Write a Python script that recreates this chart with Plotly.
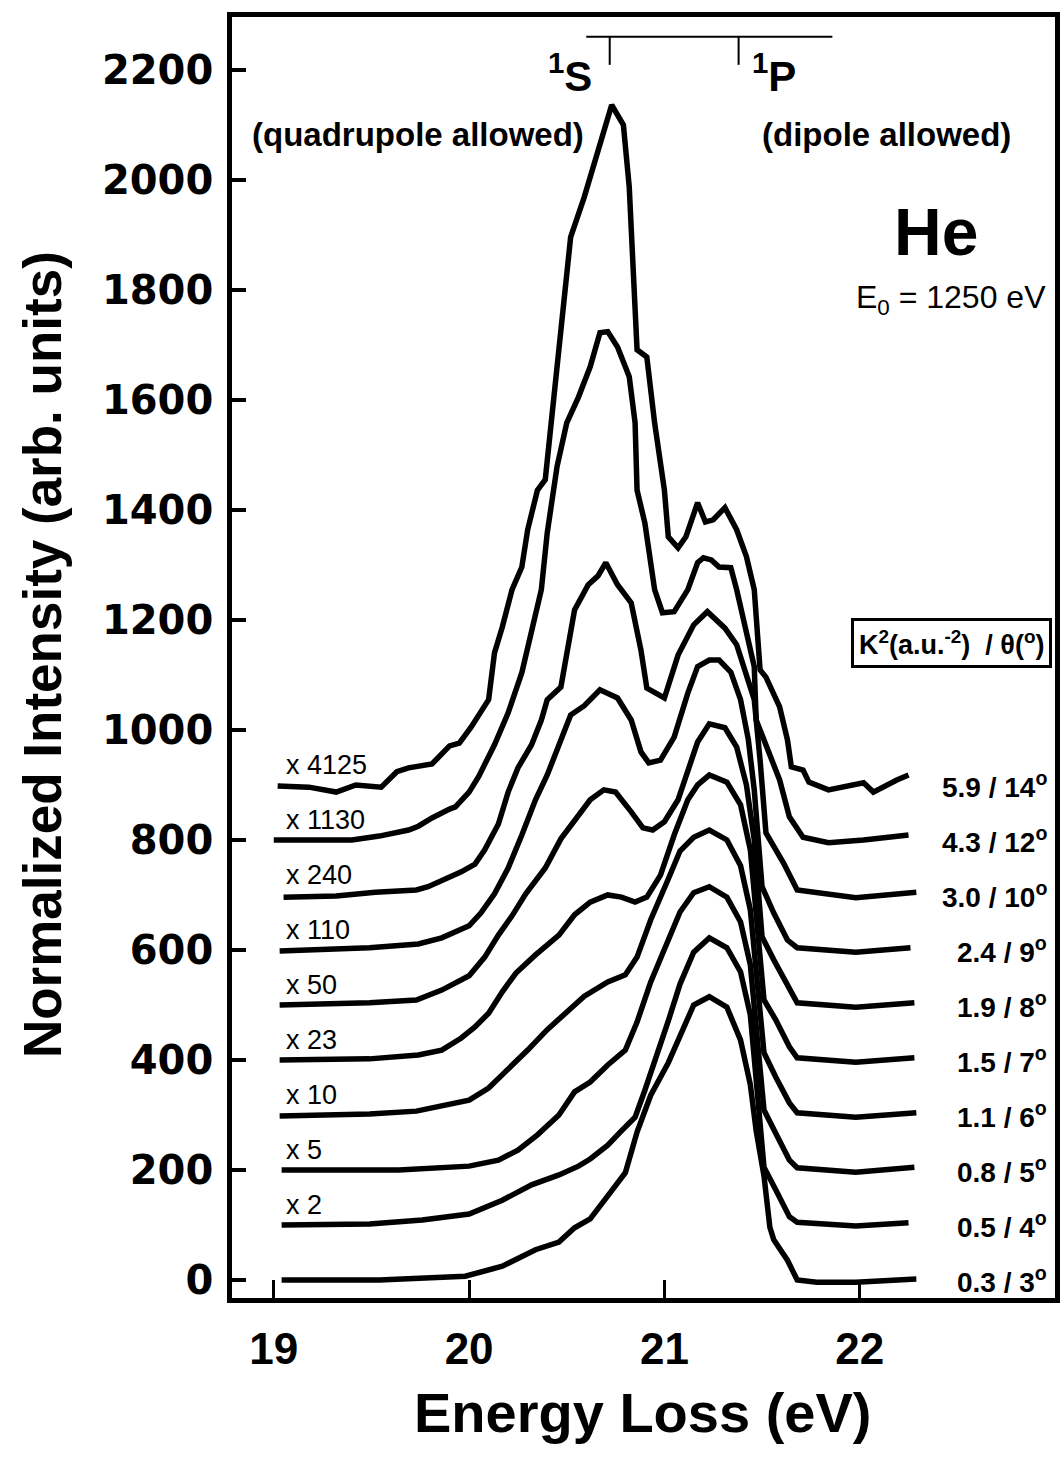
import plotly.graph_objects as go

# ---------------- data ----------------
baselines = [0, 100, 200, 300, 400, 500, 600, 700, 800, 900]

energy_0 = [19.04, 19.54, 19.98, 20.17, 20.34, 20.46, 20.54, 20.62, 20.71, 20.80, 20.86, 20.93, 21.02, 21.07,
            21.15, 21.23, 21.32, 21.39, 21.44, 21.47, 21.51, 21.54, 21.56, 21.63, 21.68, 21.78, 21.98, 22.29]
intensity_0 = [0, 0, 7, 25, 55, 69, 95, 111, 153, 195, 269, 336, 395, 436,
               500, 515, 496, 436, 355, 271, 189, 96, 73, 36, 0, -4, -4, 2]

energy_1 = [19.04, 19.49, 19.76, 20.00, 20.17, 20.32, 20.46, 20.56, 20.62, 20.71, 20.78, 20.85, 20.90, 20.95,
            21.02, 21.08, 21.15, 21.23, 21.32, 21.39, 21.44, 21.47, 21.51, 21.57, 21.64, 21.68, 21.98, 22.25]
intensity_1 = [100, 102, 109, 120, 145, 173, 191, 207, 220, 245, 271, 296, 345, 395,
               471, 538, 596, 622, 604, 560, 482, 364, 205, 164, 115, 105, 98, 104]

energy_2 = [19.04, 19.64, 20.00, 20.15, 20.25, 20.35, 20.46, 20.54, 20.62, 20.71, 20.80, 20.86, 20.93, 21.02,
            21.08, 21.15, 21.23, 21.32, 21.39, 21.44, 21.47, 21.51, 21.57, 21.64, 21.68, 21.98, 22.28]
intensity_2 = [200, 200, 207, 218, 236, 264, 300, 342, 360, 391, 418, 469, 542, 618,
               669, 704, 715, 696, 651, 573, 464, 309, 267, 218, 204, 196, 205]

energy_3 = [19.03, 19.49, 19.73, 19.86, 20.00, 20.10, 20.20, 20.30, 20.40, 20.52, 20.59, 20.71, 20.80, 20.86,
            20.93, 21.02, 21.08, 21.15, 21.23, 21.32, 21.39, 21.44, 21.47, 21.51, 21.57, 21.64, 21.68, 21.98, 22.29]
intensity_3 = [298, 302, 307, 316, 327, 349, 382, 418, 455, 495, 516, 542, 555, 587,
               655, 729, 780, 805, 818, 800, 753, 673, 564, 413, 369, 322, 304, 296, 304]

energy_4 = [19.03, 19.49, 19.74, 19.86, 19.96, 20.03, 20.10, 20.17, 20.24, 20.34, 20.46, 20.54, 20.62, 20.71,
            20.78, 20.85, 20.91, 20.98, 21.05, 21.12, 21.17, 21.23, 21.32, 21.39, 21.44, 21.47, 21.51, 21.57,
            21.64, 21.68, 21.98, 22.28]
intensity_4 = [400, 402, 409, 418, 440, 460, 485, 524, 558, 591, 627, 664, 687, 700,
               696, 687, 696, 736, 809, 873, 900, 918, 905, 864, 782, 673, 509, 473,
               424, 404, 396, 404]

energy_5 = [19.03, 19.49, 19.73, 19.86, 20.00, 20.08, 20.15, 20.22, 20.29, 20.39, 20.47, 20.54, 20.62, 20.69,
            20.75, 20.83, 20.89, 20.94, 21.00, 21.07, 21.12, 21.17, 21.23, 21.31, 21.37, 21.42, 21.46, 21.50,
            21.56, 21.64, 21.68, 21.98, 22.28]
intensity_5 = [500, 504, 509, 527, 553, 587, 627, 662, 702, 749, 802, 836, 873, 891,
               887, 851, 822, 818, 833, 873, 922, 978, 1011, 1004, 969, 900, 800, 624,
               582, 527, 504, 496, 504]

energy_6 = [19.03, 19.49, 19.74, 19.86, 20.00, 20.06, 20.13, 20.20, 20.27, 20.34, 20.40, 20.47, 20.52, 20.59,
            20.67, 20.76, 20.83, 20.88, 20.92, 20.98, 21.05, 21.12, 21.17, 21.23, 21.28, 21.34, 21.39, 21.43,
            21.46, 21.50, 21.56, 21.63, 21.68, 21.98, 22.26]
intensity_6 = [598, 604, 611, 622, 644, 667, 702, 749, 809, 873, 918, 978, 1027, 1044,
               1073, 1058, 1018, 960, 940, 945, 987, 1067, 1115, 1127, 1127, 1105, 1055, 982,
               891, 715, 667, 618, 604, 596, 604]

energy_7 = [19.05, 19.32, 19.52, 19.73, 19.79, 19.88, 19.96, 20.03, 20.08, 20.15, 20.20, 20.25, 20.32, 20.37,
            20.40, 20.47, 20.54, 20.61, 20.66, 20.70, 20.76, 20.83, 20.88, 20.91, 21.00, 21.07, 21.15, 21.22,
            21.31, 21.37, 21.42, 21.46, 21.49, 21.52, 21.61, 21.68, 21.98, 22.29]
intensity_7 = [696, 698, 705, 709, 715, 729, 742, 756, 782, 829, 887, 931, 973, 1018,
               1055, 1078, 1218, 1264, 1280, 1304, 1264, 1231, 1145, 1076, 1058, 1136, 1191, 1215,
               1185, 1155, 1100, 1055, 945, 813, 758, 709, 695, 705]

energy_8 = [19.00, 19.15, 19.40, 19.54, 19.69, 19.74, 19.81, 19.90, 19.93, 20.00, 20.05, 20.13, 20.20, 20.27,
            20.32, 20.37, 20.40, 20.45, 20.50, 20.56, 20.62, 20.67, 20.71, 20.76, 20.80, 20.82, 20.85, 20.86,
            20.90, 20.95, 20.99, 21.05, 21.12, 21.17, 21.20, 21.24, 21.28, 21.34, 21.37, 21.42, 21.46, 21.47,
            21.54, 21.59, 21.64, 21.71, 21.84, 22.02, 22.25]
intensity_8 = [800, 800, 800, 807, 818, 825, 840, 856, 860, 887, 916, 973, 1031, 1104,
               1176, 1255, 1358, 1478, 1558, 1605, 1660, 1722, 1724, 1696, 1660, 1642, 1558, 1436,
               1376, 1255, 1213, 1215, 1255, 1304, 1313, 1309, 1296, 1295, 1255, 1182, 1115, 1018,
               958, 909, 842, 805, 795, 800, 809]

energy_9 = [19.02, 19.18, 19.32, 19.42, 19.55, 19.63, 19.69, 19.81, 19.90, 19.95, 20.01, 20.10, 20.13, 20.17,
            20.22, 20.27, 20.30, 20.35, 20.39, 20.42, 20.47, 20.52, 20.59, 20.67, 20.73, 20.79, 20.82, 20.86,
            20.91, 20.95, 21.00, 21.02, 21.07, 21.11, 21.17, 21.21, 21.25, 21.31, 21.37, 21.42, 21.46, 21.49,
            21.52, 21.59, 21.63, 21.65, 21.71, 21.74, 21.84, 22.02, 22.07, 22.19, 22.25]
intensity_9 = [898, 896, 887, 900, 896, 924, 931, 938, 971, 976, 1005, 1055, 1140, 1187,
               1255, 1296, 1364, 1436, 1455, 1558, 1740, 1896, 1969, 2060, 2136, 2100, 1987, 1691,
               1678, 1558, 1436, 1351, 1331, 1351, 1413, 1378, 1382, 1404, 1364, 1315, 1255, 1109,
               1096, 1042, 982, 933, 927, 905, 891, 904, 887, 909, 918]

energies = [energy_0, energy_1, energy_2, energy_3, energy_4, energy_5, energy_6, energy_7, energy_8, energy_9]
intensities = [intensity_0, intensity_1, intensity_2, intensity_3, intensity_4,
               intensity_5, intensity_6, intensity_7, intensity_8, intensity_9]

multipliers = ["", "x 2", "x 5", "x 10", "x 23", "x 50", "x 110", "x 240", "x 1130", "x 4125"]
k2_values = ["0.3", "0.5", "0.8", "1.1", "1.5", "1.9", "2.4", "3.0", "4.3", "5.9"]
theta_values = ["3", "4", "5", "6", "7", "8", "9", "10", "12", "14"]

y_ticks = [0, 200, 400, 600, 800, 1000, 1200, 1400, 1600, 1800, 2000, 2200]
x_ticks = [19, 20, 21, 22]

s1_energy = 20.72
p1_energy = 21.38
bracket_span = [20.60, 21.86]
bracket_level = 2260
bracket_tick_bottom = 2209

# ---------------- figure ----------------
fig = go.Figure()
for e, i in zip(energies, intensities):
    fig.add_trace(go.Scatter(x=e, y=i, mode="lines",
                             line=dict(color="black", width=5.5),
                             hoverinfo="skip", showlegend=False))

arial = "Liberation Sans, Arial, sans-serif"
ann = []
for b, m in zip(baselines, multipliers):
    if m:
        ann.append(dict(x=19.05, y=b + 36, xref="x", yref="y", text=m, showarrow=False,
                        xanchor="left", yanchor="middle",
                        font=dict(family=arial, size=27, color="black")))
for b, k, t in zip(baselines, k2_values, theta_values):
    ann.append(dict(x=22.97, y=b, xref="x", yref="y", text=f"{k} / {t}<sup>o</sup>",
                    showarrow=False, xanchor="right", yanchor="middle",
                    font=dict(family=arial, size=28, color="black", weight="bold")))

ann += [
    dict(x=s1_energy - 0.08, y=2195, xref="x", yref="y", text="<sup>1</sup>S", showarrow=False,
         xanchor="right", yanchor="middle", font=dict(family=arial, size=42, color="black", weight="bold")),
    dict(x=p1_energy + 0.06, y=2195, xref="x", yref="y", text="<sup>1</sup>P", showarrow=False,
         xanchor="left", yanchor="middle", font=dict(family=arial, size=42, color="black", weight="bold")),
    dict(x=19.74, y=2082, xref="x", yref="y", text="(quadrupole allowed)", showarrow=False,
         xanchor="center", yanchor="middle", font=dict(family=arial, size=33, color="black", weight="bold")),
    dict(x=22.135, y=2082, xref="x", yref="y", text="(dipole allowed)", showarrow=False,
         xanchor="center", yanchor="middle", font=dict(family=arial, size=33, color="black", weight="bold")),
    dict(x=22.39, y=1905, xref="x", yref="y", text="He", showarrow=False,
         xanchor="center", yanchor="middle", font=dict(family=arial, size=66, color="black", weight="bold")),
    dict(x=22.965, y=1782, xref="x", yref="y", text="E<sub>0</sub> = 1250 eV", showarrow=False,
         xanchor="right", yanchor="middle", font=dict(family=arial, size=32, color="black")),
    dict(x=22.985, y=1158, xref="x", yref="y",
         text="K<sup>2</sup>(a.u.<sup>-2</sup>)  / θ(<sup>o</sup>)", showarrow=False,
         xanchor="right", yanchor="middle", bordercolor="black", borderwidth=3, borderpad=5,
         bgcolor="white", font=dict(family=arial, size=27, color="black", weight="bold")),
    dict(x=0.499, y=-0.089, xref="paper", yref="paper", text="Energy Loss (eV)", showarrow=False,
         xanchor="center", yanchor="middle", font=dict(family=arial, size=56, color="black", weight="bold")),
    dict(x=-0.2295, y=0.502, xref="paper", yref="paper", text="Normalized Intensity (arb. units)",
         showarrow=False, textangle=-90, xanchor="center", yanchor="middle",
         font=dict(family=arial, size=53, color="black", weight="bold")),
]

shapes = [
    dict(type="line", xref="x", yref="y", x0=bracket_span[0], x1=bracket_span[1],
         y0=bracket_level, y1=bracket_level, line=dict(color="black", width=2)),
    dict(type="line", xref="x", yref="y", x0=s1_energy, x1=s1_energy,
         y0=bracket_level, y1=bracket_tick_bottom, line=dict(color="black", width=2)),
    dict(type="line", xref="x", yref="y", x0=p1_energy, x1=p1_energy,
         y0=bracket_level, y1=bracket_tick_bottom, line=dict(color="black", width=2)),
]

fig.update_layout(
    width=1064, height=1462,
    margin=dict(l=232, r=4, t=17, b=164),
    paper_bgcolor="white", plot_bgcolor="white",
    showlegend=False,
    annotations=ann, shapes=shapes,
    xaxis=dict(range=[18.786, 23.0], tickvals=x_ticks, ticktext=[str(v) for v in x_ticks],
               ticks="inside", ticklen=18, tickwidth=3, tickcolor="black",
               showline=True, linewidth=4.5, linecolor="black", mirror=True,
               showgrid=False, zeroline=False, ticklabelstandoff=8,
               tickfont=dict(family=arial, size=44, color="black", weight="bold")),
    yaxis=dict(range=[-32.7, 2296], tickvals=y_ticks, ticktext=[str(v) for v in y_ticks],
               ticks="inside", ticklen=14, tickwidth=4, tickcolor="black",
               showline=True, linewidth=4.5, linecolor="black", mirror=True,
               showgrid=False, zeroline=False, ticklabelstandoff=6,
               tickfont=dict(family="DejaVu Sans", size=40, color="black", weight="bold")),
)

fig.write_html("out.html")
